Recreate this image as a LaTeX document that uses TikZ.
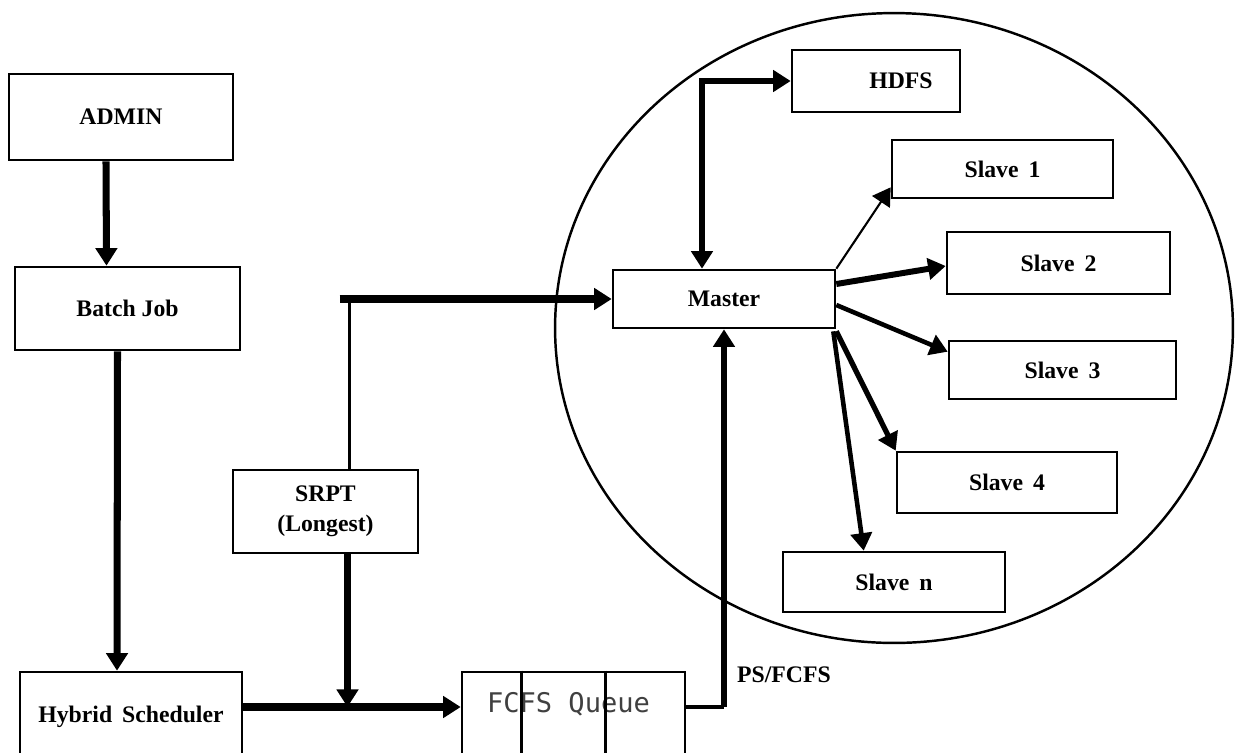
\documentclass[tikz,border=0pt]{standalone}
\usepackage{fontspec}
\setmainfont{Liberation Serif}
\newfontfamily\queuefont{DejaVu Sans Mono}
\usetikzlibrary{arrows.meta,calc}

\newcommand{\wsp}{\hspace{0.42em}}

\tikzset{
    blk/.style={draw, line width=1.5pt, inner sep=0pt, align=center,
        font=\fontsize{13.5}{17}\selectfont\bfseries},
    tip/.style={-{Triangle[length=10pt,width=12pt]}},
    fat/.style={tip, line width=4pt},
    mid/.style={tip, line width=2.6pt},
    lean/.style={line width=1.4pt},
}

\begin{document}
\begin{tikzpicture}[x=0.02cm, y=-0.02cm]

        \useasboundingbox (0,0) rectangle (1235,752);
        \clip (0,0) rectangle (1235,752);

        % cluster

        \draw[lean] (894,328) ellipse [x radius=6.78cm, y radius=6.3cm];

        % left column

        \node[blk, minimum width=4.48cm, minimum height=1.72cm] (admin) at (121,117) {ADMIN};
        \node[blk, minimum width=4.5cm, minimum height=1.66cm] (batch) at (127.5,308.5) {Batch Job};
        \node[blk, minimum width=4.44cm, minimum height=1.8cm] (hybrid) at (131,717) {Hybrid\wsp Scheduler};
        \node[blk, minimum width=3.7cm, minimum height=1.66cm] (srpt) at (325.5,511.5) {SRPT\\(Longest)};

        % queue

        \node[draw, line width=1.5pt, minimum width=4.46cm, minimum height=1.8cm, inner sep=0pt,
            font=\queuefont\fontsize{15.4}{18}\selectfont, text=black!75] (queue) at (573.5,717)
            {\raisebox{0.26cm}[\height][\depth]{FCFS Queue\hspace{0.2cm}}};
        \foreach \dx in {61,145}
            \draw[lean] ($(queue.north west)+(\dx,0)$) -- ($(queue.south west)+(\dx,0)$);

        % master and slaves

        \node[blk, minimum width=4.44cm, minimum height=1.16cm] (master) at (724,299) {Master};
        \node[blk, minimum width=3.36cm, minimum height=1.24cm] (hdfs) at (876,81) {\hspace{1cm}HDFS};
        \node[blk, minimum width=4.42cm, minimum height=1.16cm] (slave1) at (1002.5,169) {Slave\wsp 1};
        \node[blk, minimum width=4.46cm, minimum height=1.24cm] (slave2) at (1058.5,263) {Slave\wsp 2};
        \node[blk, minimum width=4.54cm, minimum height=1.16cm] (slave3) at (1062.5,370) {Slave\wsp 3};
        \node[blk, minimum width=4.4cm, minimum height=1.22cm] (slave4) at (1007,482.5) {Slave\wsp 4};
        \node[blk, minimum width=4.44cm, minimum height=1.2cm] (slaven) at (894,582) {Slave\wsp n};

        \node[font=\fontsize{13.5}{16}\selectfont\bfseries] (psfcfs) at (784,675) {PS/FCFS};

        % flow

        \draw[fat] ($(admin.south)+(-15,0)$) -- ($(batch.north)+(-21,0)$);
        \draw[fat] ($(batch.south)+(-10,0)$) -- ($(hybrid.north)+(-14,0)$);

        \coordinate (lane) at ($(hybrid.east)+(0,-10)$);
        \draw[fat, line width=5pt] (lane) -- (lane -| queue.west);

        \coordinate (sb) at ($(srpt.south)+(22,0)$);
        \draw[fat] (sb) -- (sb |- lane);

        \coordinate (st) at ($(srpt.north)+(24,0)$);
        \draw[lean, line width=2pt] (st) -- (st |- master.west);
        \draw[fat] ($(st |- master.west)+(-10,0)$) -- (master.west);

        \coordinate (qo) at (queue.east |- lane);
        \draw[lean, line width=2pt] (qo) -- (qo -| master.south);
        \draw[fat, line width=3.4pt] (qo -| master.south) -- (master.south);

        \draw[mid, {Triangle[length=10pt,width=12pt]}-{Triangle[length=10pt,width=12pt]}, line width=3.4pt]
            ($(master.north)+(-22,0)$) |- (hdfs.west);

        % master to slaves

        \draw[tip, line width=1.2pt] (master.north east) -- ($(slave1.south west)+(0,-12)$);
        \draw[fat, line width=3.4pt] ($(master.east)+(0,-15)$) -- ($(slave2.west)+(0,3)$);
        \draw[mid] ($(master.east)+(0,6)$) -- ($(slave3.north west)+(0,12)$);
        \draw[fat, line width=3pt] ($(master.south east)+(0,2)$) -- (slave4.north west);
        \draw[mid] ($(master.south east)+(-3,2)$) -- ($(slaven.north west)+(82,0)$);

    \end{tikzpicture}
\end{document}
